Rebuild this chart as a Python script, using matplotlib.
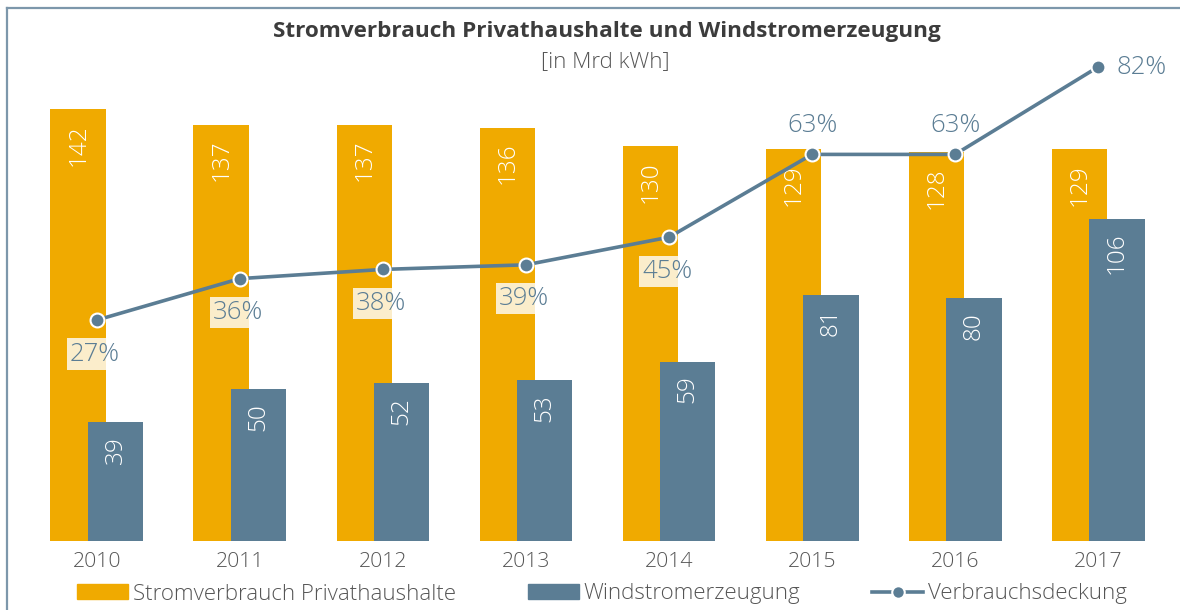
import matplotlib.pyplot as plt
from matplotlib.patches import Patch
from matplotlib.lines import Line2D

plt.rcParams['font.family'] = ['Open Sans', 'DejaVu Sans']
plt.rcParams['font.weight'] = 'light'

years = ['2010', '2011', '2012', '2013', '2014', '2015', '2016', '2017']
verbrauch = [142, 137, 137, 136, 130, 129, 128, 129]
wind = [39, 50, 52, 53, 59, 81, 80, 106]
deckung = [27, 36, 38, 39, 45, 63, 63, 82]

orange = '#F0AA00'
blau = '#5B7D94'
grau = '#555555'

fig = plt.figure(figsize=(11.8, 6.1), dpi=100)
ax = fig.add_axes([0, 69 / 610, 1, 501 / 610])
ax2 = ax.twinx()

x = list(range(len(years)))
off = 0.13
w = 0.39
ax.bar([i - off for i in x], verbrauch, width=w, color=orange, zorder=1)
ax.bar([i + off for i in x], wind, width=w, color=blau, zorder=2)

for i in x:
    ax.text(i - off, verbrauch[i] - 5.0, str(verbrauch[i]), rotation=90,
            ha='center', va='top', color='white', fontsize=17.5)
    ax.text(i + off, wind[i] - 4.6, str(wind[i]), rotation=90,
            ha='center', va='top', color='white', fontsize=17.5)
    ax.text(i, -7, years[i], ha='center', va='center', color=grau, fontsize=15.3)

ax.set_xlim(-0.678, 7.573)
ax.set_ylim(0, 164.8)
ax.axis('off')

ax2.plot(x, deckung, color=blau, lw=2.6, marker='o', ms=10,
         mfc=blau, mec='white', mew=1.5, zorder=5)
ax2.set_ylim(-21.04, 87.87)
ax2.axis('off')

for i in x:
    lab = f'{deckung[i]}%'
    if i < 5:
        ax2.annotate(lab, (i, deckung[i]), xytext=(-2, -34), textcoords='offset pixels',
                     ha='center', va='center', color=blau, fontsize=18.5,
                     bbox=dict(boxstyle='square,pad=0.12', fc='white', ec='none', alpha=0.8))
    elif i < 7:
        ax2.annotate(lab, (i, deckung[i]), xytext=(0, 29), textcoords='offset pixels',
                     ha='center', va='center', color=blau, fontsize=18.5)
    else:
        ax2.annotate(lab, (i, deckung[i]), xytext=(18, 0), textcoords='offset pixels',
                     ha='left', va='center', color=blau, fontsize=18.5)

fig.text(0.514, 1 - 31 / 610, 'Stromverbrauch Privathaushalte und Windstromerzeugung',
         ha='center', va='center', fontsize=16.2, fontweight='bold', color='#3C3C3C')
fig.text(0.513, 1 - 62 / 610, '[in Mrd kWh]', ha='center', va='center',
         fontsize=16, color=grau)

handles = [Patch(color=orange), Patch(color=blau),
           Line2D([0], [0], color=blau, lw=2.6, marker='o', ms=9, mfc=blau, mec='white', mew=1.5)]
labels = ['Stromverbrauch Privathaushalte', 'Windstromerzeugung', 'Verbrauchsdeckung']
fig.legend(handles, labels, loc='center', bbox_to_anchor=(602 / 1180, 1 - 594 / 610),
           ncol=3, frameon=False, fontsize=16, labelcolor=grau,
           handlelength=2.3, handleheight=0.65, handletextpad=0.2, columnspacing=3.25)

rand = '#7D97AB'
fig.add_artist(Line2D([7 / 1180, 7 / 1180], [0, 1 - 8 / 610], color=rand, lw=1.6,
                      transform=fig.transFigure))
fig.add_artist(Line2D([7 / 1180, 1], [1 - 8 / 610, 1 - 8 / 610], color=rand, lw=1.6,
                      transform=fig.transFigure))

fig.savefig('out.png', dpi=100)
